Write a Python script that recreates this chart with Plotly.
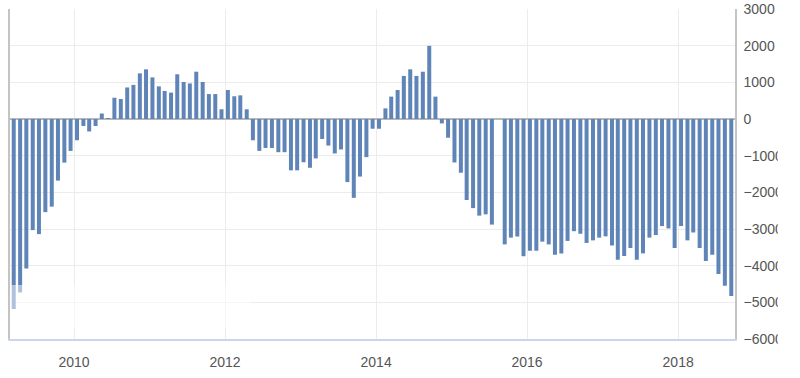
import pandas as pd
import plotly.graph_objects as go

# Monthly values, Mar 2009 .. Sep 2018 (one month without data)
months = pd.date_range(start="2009-03-01", periods=115, freq="MS") + pd.Timedelta(days=14)
values = [
    -5180, -4730, -4080, -3030, -3140, -2540, -2390, -1680, -1190, -870,
    -580, -190, -340, -190, 150, 20, 580, 545, 860, 930,
    1245, 1355, 1135, 890, 765, 720, 1220, 1010, 970, 1290,
    1010, 680, 680, 265, 790, 620, 645, 265, -580, -870,
    -790, -790, -905, -905, -1400, -1400, -1180, -1330, -1075, -545,
    -725, -940, -830, -1720, -2150, -1570, -1040, -265, -265, 290,
    610, 790, 1175, 1355, 1175, 1290, 1995, 610, -120, -510,
    -1185, -1465, -2210, -2430, -2635, -2600, -2880, None, -3420, -3235,
    -3205, -3740, -3590, -3590, -3345, -3420, -3700, -3665, -3325, -3060,
    -3130, -3380, -3310, -3235, -3200, -3450, -3840, -3735, -3520, -3840,
    -3665, -3235, -3165, -2920, -2985, -3520, -2920, -3310, -3095, -3520,
    -3875, -3700, -4230, -4545, -4830,
]
year_ticks = ["2010-01-01", "2012-01-01", "2014-01-01", "2016-01-01", "2018-01-01"]
year_labels = ["2010", "2012", "2014", "2016", "2018"]
y_ticks = [3000, 2000, 1000, 0, -1000, -2000, -3000, -4000, -5000, -6000]

fig = go.Figure(
    go.Bar(
        x=months,
        y=values,
        marker=dict(color="#5f84b8", line=dict(width=0)),
        hoverinfo="x+y",
    )
)

fig.update_layout(
    width=800,
    height=378,
    margin=dict(l=10, r=65, t=9, b=39, autoexpand=False),
    paper_bgcolor="white",
    plot_bgcolor="white",
    bargap=0.31,
    showlegend=False,
    font=dict(family="Arial, Liberation Sans, sans-serif", size=14, color="#606060"),
    shapes=[
        # faded patch in the lower-left corner
        dict(
            type="rect", xref="paper", yref="paper",
            x0=0.0, x1=0.331, y0=0.033, y1=0.1636,
            fillcolor="white", opacity=0.5, line=dict(width=0), layer="above",
        ),
        # right edge crop of the tick labels
        dict(
            type="rect", xref="paper", yref="paper",
            x0=1.059, x1=1.2, y0=-0.2, y1=1.1,
            fillcolor="white", opacity=1, line=dict(width=0), layer="above",
        ),
    ],
)

fig.update_xaxes(
    type="date",
    range=["2009-02-25", "2018-10-03"],
    tickvals=year_ticks,
    ticktext=year_labels,
    showgrid=True,
    gridcolor="#ececec",
    gridwidth=1,
    showline=True,
    linecolor="#ccd6eb",
    linewidth=1.5,
    ticks="",
    ticklabelstandoff=9,
    tickfont=dict(size=14, color="#555555"),
    zeroline=False,
)

fig.update_yaxes(
    side="right",
    range=[-6000, 3000],
    tickvals=y_ticks,
    showgrid=True,
    gridcolor="#ececec",
    gridwidth=1,
    showline=True,
    linecolor="#c4c4c4",
    linewidth=1.5,
    mirror=True,
    ticks="",
    ticklabelstandoff=4,
    ticklabeloverflow="allow",
    tickfont=dict(size=14, color="#555555"),
    zeroline=True,
    zerolinecolor="#b8b8b8",
    zerolinewidth=1.5,
)

fig.write_html(
    "out.html",
    config={"displayModeBar": False},
    post_script="document.body.style.margin='0';document.body.style.padding='0';",
)
